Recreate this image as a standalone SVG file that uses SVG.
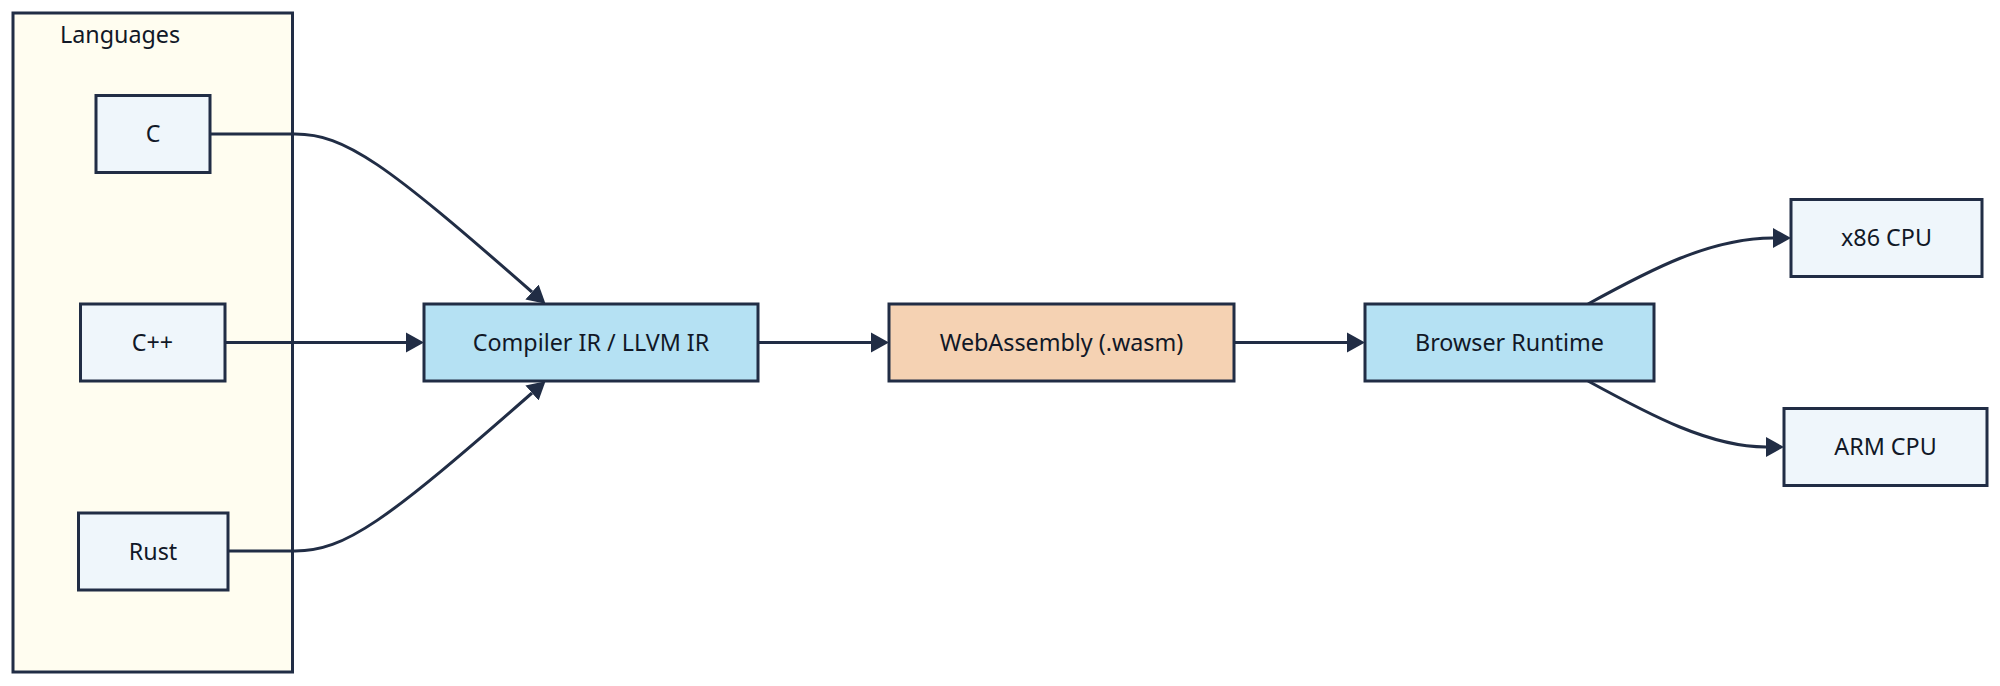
<svg xmlns="http://www.w3.org/2000/svg" width="2000" height="686" viewBox="0 0 2000 686">
<style>
.node rect{stroke:#212d45;stroke-width:3}
.plain rect{fill:#eff6fb}
.blue rect{fill:#b5e1f3}
.orange rect{fill:#f5d2b3}
text{font-family:"Noto Sans","Open Sans",sans-serif;font-size:23.3px;fill:#111827;text-anchor:middle}
.edge{fill:none;stroke:#212d45;stroke-width:3}
</style>
<defs>
<marker id="arr" markerUnits="userSpaceOnUse" markerWidth="20" markerHeight="22" refX="0" refY="10" orient="auto" viewBox="0 0 20 20">
<path d="M0,0 L18,10 L0,20 z" fill="#212d45"/>
</marker>
</defs>
<rect width="2000" height="686" fill="#ffffff"/>
<g id="cluster-languages">
<rect x="13" y="13" width="279.5" height="659" fill="#fffdf0" stroke="#212d45" stroke-width="3"/>
<text x="60" y="43" style="text-anchor:start">Languages</text>
</g>
<g id="connectors">
<path class="edge" d="M210,134 H295 C345,134 385,163 532,292" marker-end="url(#arr)"/>
<path class="edge" d="M225,342.5 H406" marker-end="url(#arr)"/>
<path class="edge" d="M228,551 H295 C345,551 385,522 532,393" marker-end="url(#arr)"/>
<path class="edge" d="M758,342.5 H871" marker-end="url(#arr)"/>
<path class="edge" d="M1234,342.5 H1347" marker-end="url(#arr)"/>
<path class="edge" d="M1588,304 C1650,270 1710,238 1773,238" marker-end="url(#arr)"/>
<path class="edge" d="M1588,381 C1650,415 1710,447 1766,447" marker-end="url(#arr)"/>
</g>
<g id="node-c" class="node plain">
<rect x="96" y="95.5" width="114" height="77"/>
<text x="153" y="142">C</text>
</g>
<g id="node-cpp" class="node plain">
<rect x="80.5" y="304" width="144.5" height="77"/>
<text x="152.5" y="350.5">C++</text>
</g>
<g id="node-rust" class="node plain">
<rect x="78.5" y="513" width="149.5" height="77"/>
<text x="153" y="559.5">Rust</text>
</g>
<g id="node-compiler" class="node blue">
<rect x="424" y="304" width="334" height="77"/>
<text x="591" y="350.5">Compiler IR / LLVM IR</text>
</g>
<g id="node-wasm" class="node orange">
<rect x="889" y="304" width="345" height="77"/>
<text x="1061.5" y="350.5">WebAssembly (.wasm)</text>
</g>
<g id="node-browser" class="node blue">
<rect x="1365" y="304" width="289" height="77"/>
<text x="1509.5" y="350.5">Browser Runtime</text>
</g>
<g id="node-x86" class="node plain">
<rect x="1791" y="199.5" width="191" height="77"/>
<text x="1886.5" y="246">x86 CPU</text>
</g>
<g id="node-arm" class="node plain">
<rect x="1784" y="408.5" width="203" height="77"/>
<text x="1885.5" y="455">ARM CPU</text>
</g>
</svg>
